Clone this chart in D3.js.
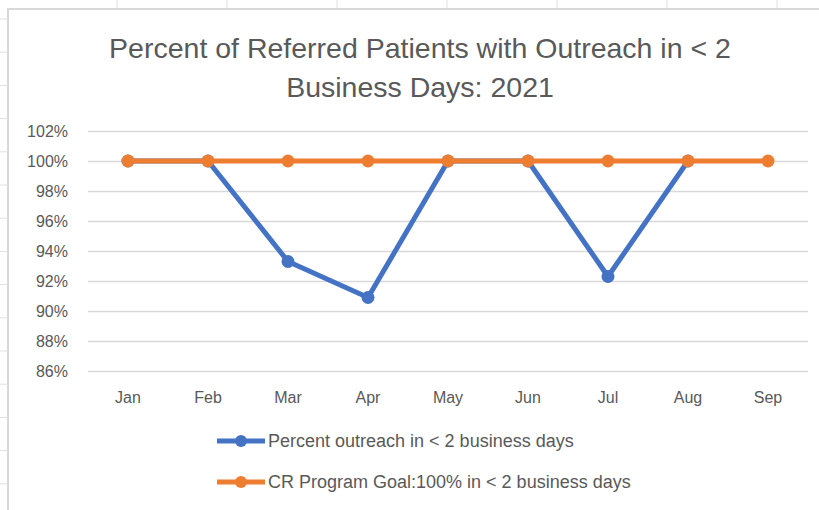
<!DOCTYPE html>
<html>
<head>
<meta charset="utf-8">
<script src="https://cdn.jsdelivr.net/npm/d3@7"></script>
<style>
  body { margin: 0; background: #fff; }
  text { font-family: "Liberation Sans", Arial, sans-serif; fill: #595959; }
</style>
</head>
<body>
<div id="chart"></div>
<script>
var months = ["Jan", "Feb", "Mar", "Apr", "May", "Jun", "Jul", "Aug", "Sep"];
var outreach = [1.00, 1.00, 0.933, 0.909, 1.00, 1.00, 0.923, 1.00, null];
var goal = [1.00, 1.00, 1.00, 1.00, 1.00, 1.00, 1.00, 1.00, 1.00];
var yTicks = [0.86, 0.88, 0.90, 0.92, 0.94, 0.96, 0.98, 1.00, 1.02];
var seriesNames = ["Percent outreach in < 2 business days", "CR Program Goal:100% in < 2 business days"];

var W = 819, H = 510;
var colors = ["#4472C4", "#ED7D31"];

var svg = d3.select("#chart").append("svg")
    .attr("width", W)
    .attr("height", H);

// spreadsheet cells behind the chart
var cols = d3.range(0, 8).map(function (i) { return 117 + i * 110; });
var rows = d3.range(0, 16).map(function (i) { return 19 + i * 33.2; });
svg.selectAll(".col").data(cols).enter().append("line")
    .attr("x1", function (d) { return d; }).attr("x2", function (d) { return d; })
    .attr("y1", 0).attr("y2", 10)
    .attr("stroke", "#e1e1e1");
svg.selectAll(".row").data(rows).enter().append("line")
    .attr("x1", 0).attr("x2", 8)
    .attr("y1", function (d) { return d; }).attr("y2", function (d) { return d; })
    .attr("stroke", "#e1e1e1");

// chart box
svg.append("rect")
    .attr("x", 8).attr("y", 9)
    .attr("width", W + 10).attr("height", H + 10)
    .attr("fill", "#fff")
    .attr("stroke", "#d9d9d9")
    .attr("stroke-width", 2);

var xscale = d3.scaleBand().domain(months).range([88, 808]);
var yscale = d3.scaleLinear().domain([0.86, 1.02]).range([371, 131]);
function xc(m) { return xscale(m) + xscale.bandwidth() / 2; }

// Title
var title = svg.append("text")
    .attr("text-anchor", "middle")
    .style("font-size", "28.5px");
title.append("tspan").attr("x", 420).attr("y", 58).text("Percent of Referred Patients with Outreach in < 2");
title.append("tspan").attr("x", 420).attr("y", 97).text("Business Days: 2021");

// gridlines
svg.append("g")
    .attr("transform", "translate(88,0)")
    .call(d3.axisLeft(yscale).tickValues(yTicks).tickSize(-720).tickFormat(""))
    .call(function (g) { g.select(".domain").remove(); })
    .call(function (g) { g.selectAll("line").attr("stroke", "#d9d9d9").attr("stroke-width", 1.3); });

// y labels
svg.append("g")
    .attr("transform", "translate(68,0)")
    .call(d3.axisLeft(yscale).tickValues(yTicks).tickSize(0).tickPadding(0).tickFormat(d3.format(".0%")))
    .call(function (g) { g.select(".domain").remove(); })
    .call(function (g) { g.selectAll("text").style("font-size", "16px").attr("fill", "#595959").style("font-family", "Liberation Sans"); });

// x labels
svg.append("g")
    .attr("transform", "translate(0,392)")
    .call(d3.axisBottom(xscale).tickSize(0).tickPadding(0))
    .call(function (g) { g.select(".domain").remove(); })
    .call(function (g) { g.selectAll("text").style("font-size", "16px").attr("fill", "#595959").style("font-family", "Liberation Sans"); });

var data = [outreach, goal].map(function (vals) {
    return months.map(function (m, i) { return { month: m, value: vals[i] }; })
        .filter(function (d) { return d.value != null; });
});

var line = d3.line()
    .x(function (d) { return xc(d.month); })
    .y(function (d) { return yscale(d.value); });

data.forEach(function (series, k) {
    svg.append("path")
        .datum(series)
        .attr("fill", "none")
        .attr("stroke", colors[k])
        .attr("stroke-width", 5)
        .attr("stroke-linejoin", "round")
        .attr("d", line);
    svg.selectAll(".dot" + k)
        .data(series)
        .enter().append("circle")
        .attr("cx", function (d) { return xc(d.month); })
        .attr("cy", function (d) { return yscale(d.value); })
        .attr("r", 6.5)
        .attr("fill", colors[k]);
});

// legend
var legend = svg.selectAll(".legend")
    .data(seriesNames)
    .enter().append("g")
    .attr("transform", function (d, i) { return "translate(217," + (441 + i * 41) + ")"; });
legend.append("line")
    .attr("x1", 0).attr("x2", 48)
    .attr("stroke", function (d, i) { return colors[i]; })
    .attr("stroke-width", 5);
legend.append("circle")
    .attr("cx", 24).attr("r", 6)
    .attr("fill", function (d, i) { return colors[i]; });
legend.append("text")
    .attr("x", 51).attr("dy", "0.35em")
    .style("font-size", "18px")
    .text(function (d) { return d; });
</script>
</body>
</html>
